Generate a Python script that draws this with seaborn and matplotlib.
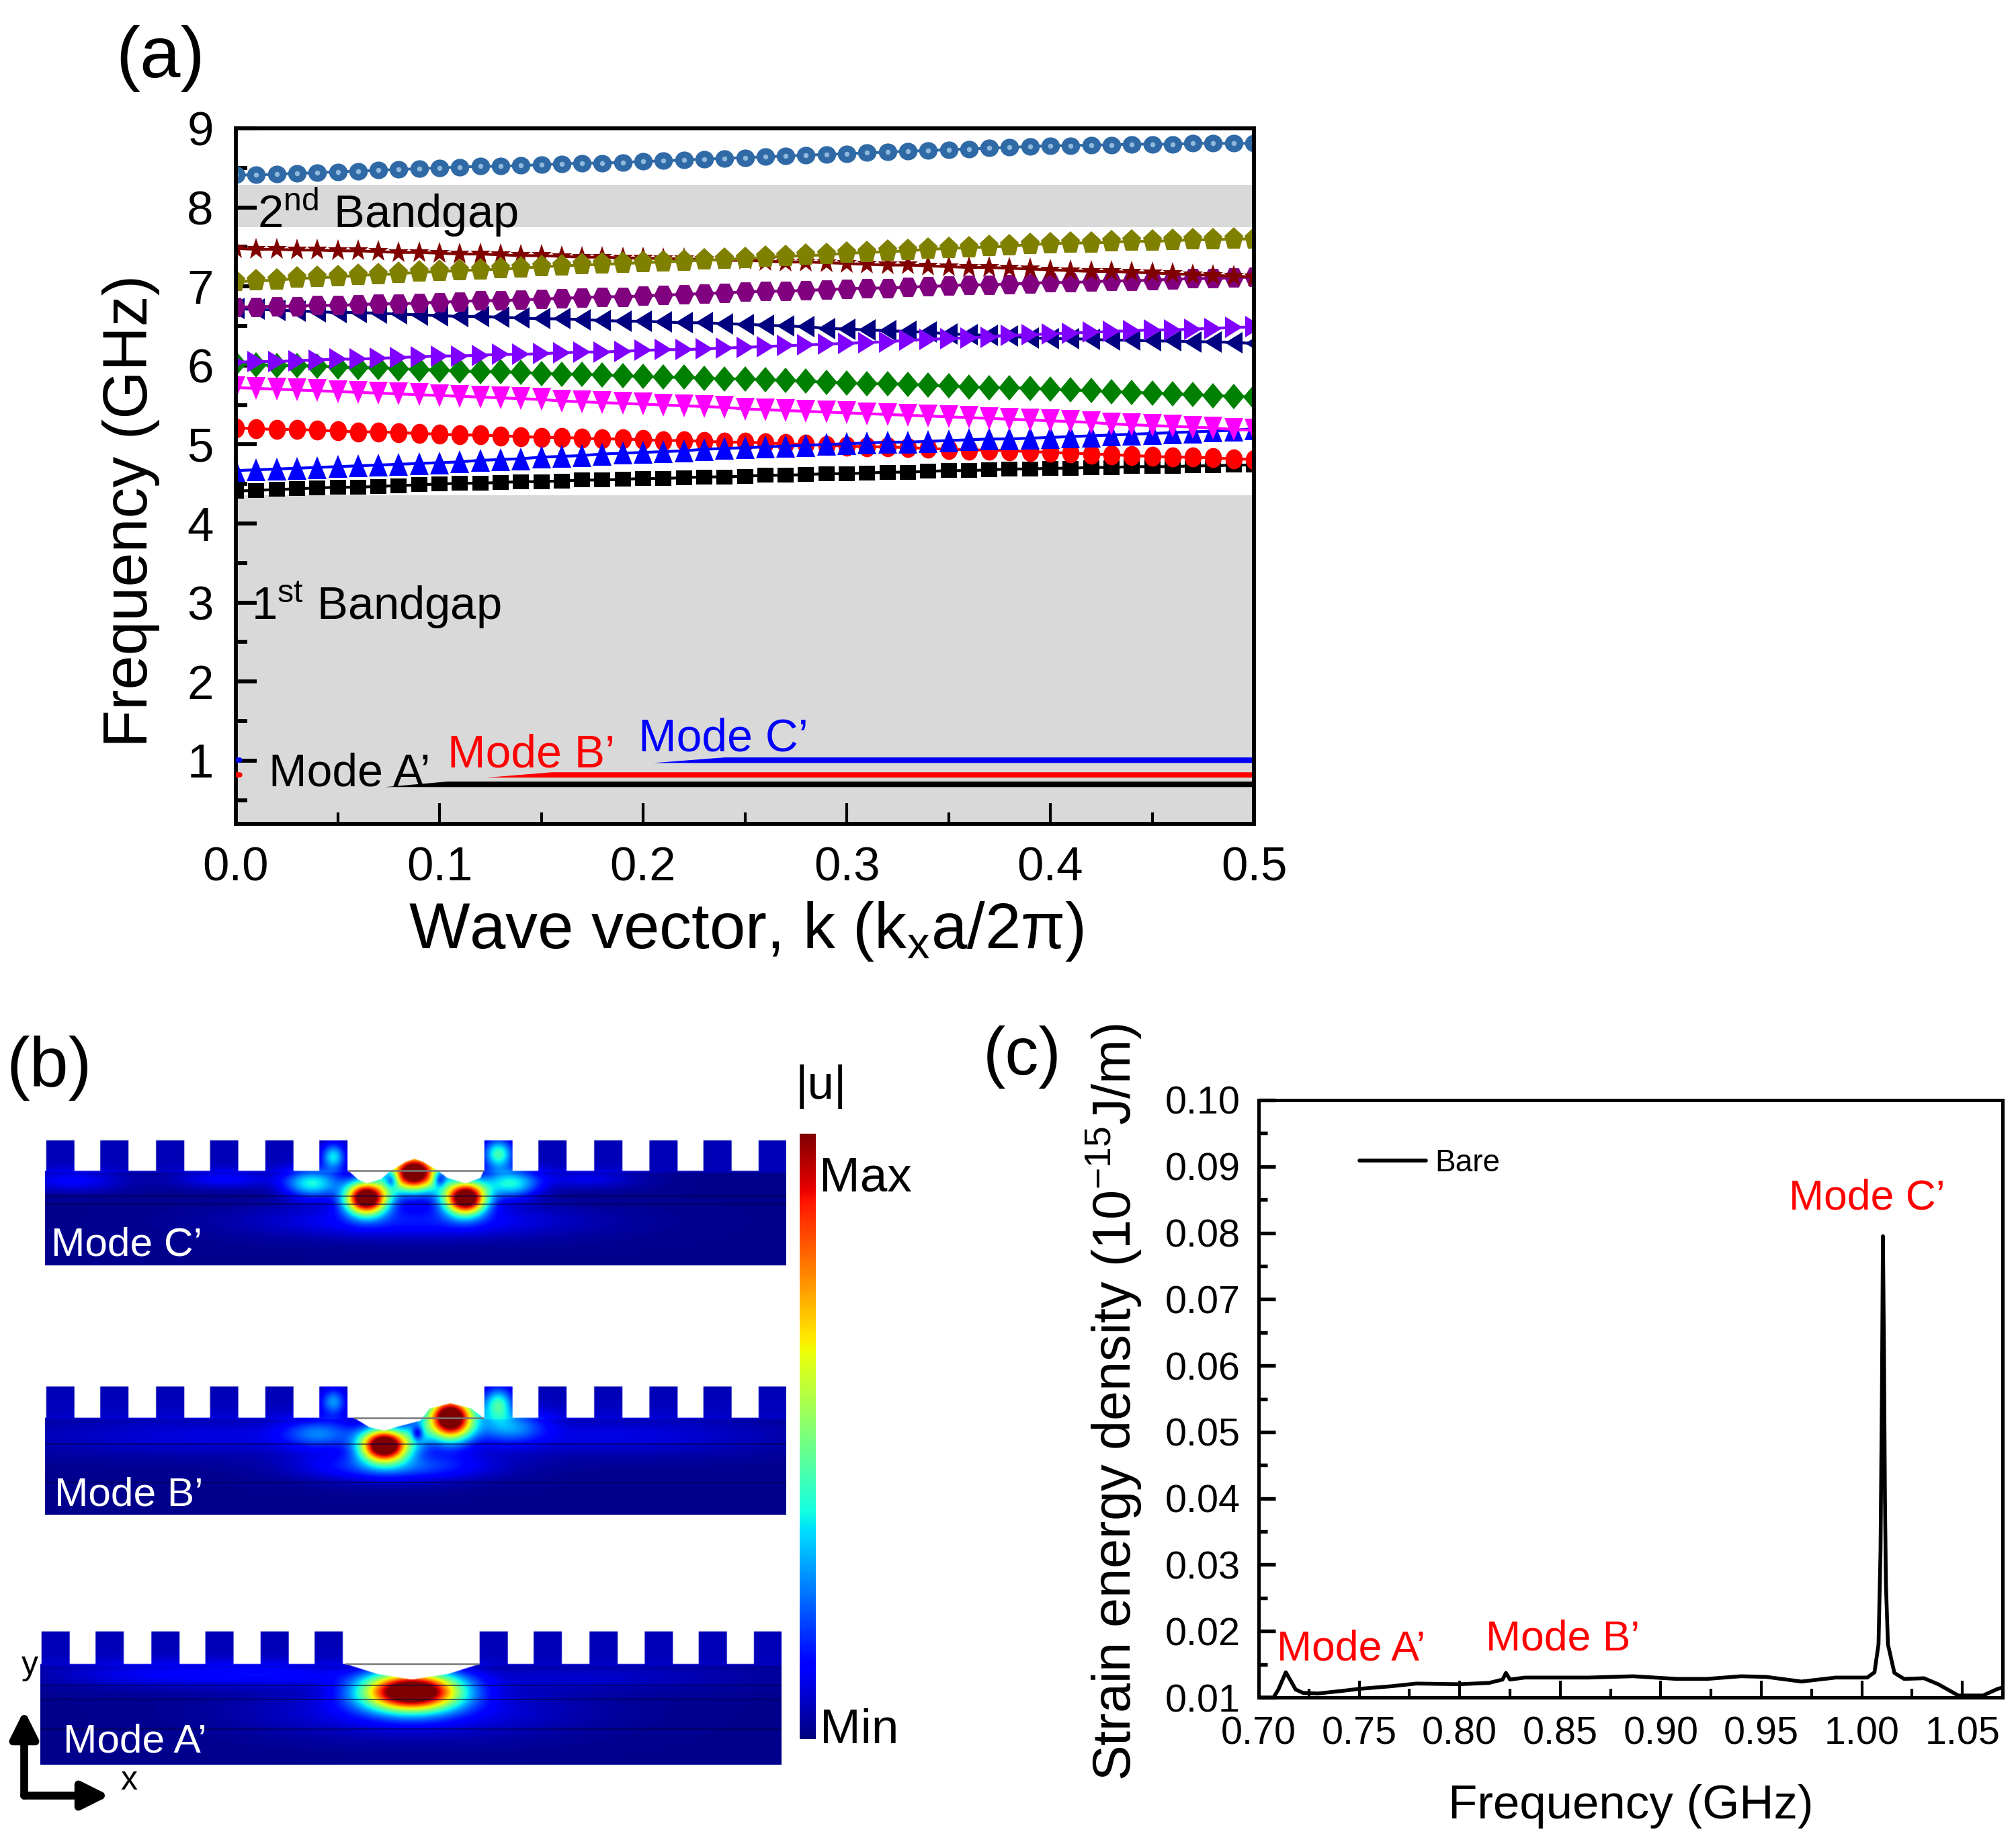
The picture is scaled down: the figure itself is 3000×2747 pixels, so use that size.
import matplotlib
matplotlib.use("Agg")
import matplotlib.pyplot as plt
from matplotlib.markers import MarkerStyle
from matplotlib.transforms import Affine2D
from matplotlib.ticker import MultipleLocator, FormatStrFormatter
import seaborn as sns
import numpy as np

sns.set_theme(style="ticks")
plt.rcParams['font.family'] = ['Liberation Sans', 'DejaVu Sans']
plt.rcParams['mathtext.fontset'] = 'custom'
plt.rcParams['mathtext.rm'] = 'Liberation Sans'
plt.rcParams['mathtext.it'] = 'Liberation Sans:italic'
plt.rcParams['mathtext.bf'] = 'Liberation Sans:bold'

W_PX, H_PX = 3000, 2747

# --- panel (a): band structure
wave_k = [i / 100 for i in range(51)]

band_black = [4.41,4.42,4.43,4.44,4.45,4.46,4.46,4.47,4.48,4.49,4.50,4.51,4.51,4.52,4.53,4.53,4.54,4.55,4.55,4.56,4.57,
              4.57,4.58,4.59,4.59,4.60,4.61,4.61,4.62,4.63,4.63,4.64,4.65,4.65,4.66,4.67,4.67,4.68,4.69,4.69,4.70,
              4.70,4.71,4.71,4.72,4.72,4.72,4.73,4.73,4.74,4.74]
band_red = [5.21,5.20,5.19,5.19,5.18,5.17,5.16,5.16,5.15,5.14,5.13,5.12,5.12,5.11,5.10,5.09,5.09,5.08,5.07,5.07,5.06,
            5.05,5.05,5.04,5.03,5.03,5.02,5.01,5.00,4.99,4.98,4.97,4.97,4.96,4.95,4.94,4.93,4.93,4.92,4.91,4.90,
            4.89,4.88,4.87,4.86,4.85,4.84,4.84,4.83,4.82,4.81]
band_blue = [4.67,4.68,4.69,4.70,4.71,4.72,4.73,4.74,4.75,4.76,4.77,4.78,4.80,4.81,4.82,4.84,4.85,4.86,4.88,4.89,4.90,
             4.91,4.92,4.94,4.95,4.96,4.97,4.98,4.99,5.00,5.01,5.02,5.03,5.03,5.04,5.05,5.06,5.07,5.07,5.08,5.09,
             5.10,5.11,5.12,5.13,5.14,5.15,5.16,5.17,5.18,5.20]
band_magenta = [5.72,5.71,5.70,5.69,5.68,5.67,5.66,5.65,5.64,5.63,5.62,5.61,5.60,5.59,5.58,5.57,5.55,5.54,5.53,5.52,5.51,
                5.50,5.49,5.48,5.47,5.45,5.44,5.43,5.42,5.41,5.40,5.39,5.38,5.37,5.36,5.35,5.34,5.33,5.32,5.31,5.30,
                5.29,5.28,5.26,5.25,5.24,5.23,5.22,5.21,5.19,5.18]
band_green = [6.02,6.01,6.00,6.00,5.99,5.98,5.97,5.97,5.96,5.95,5.94,5.93,5.92,5.92,5.91,5.90,5.89,5.89,5.88,5.87,5.86,
              5.85,5.85,5.84,5.83,5.83,5.82,5.81,5.80,5.79,5.78,5.77,5.77,5.76,5.75,5.74,5.73,5.72,5.72,5.71,5.70,
              5.69,5.68,5.67,5.66,5.65,5.64,5.63,5.62,5.61,5.60]
band_navy = [6.72,6.71,6.70,6.69,6.68,6.67,6.67,6.66,6.65,6.64,6.63,6.62,6.62,6.61,6.60,6.59,6.59,6.58,6.57,6.56,6.56,
             6.55,6.54,6.54,6.53,6.52,6.51,6.50,6.49,6.47,6.46,6.45,6.44,6.43,6.42,6.40,6.39,6.38,6.37,6.35,6.34,
             6.34,6.33,6.32,6.32,6.31,6.31,6.30,6.30,6.29,6.28]
band_violet = [6.04,6.05,6.05,6.06,6.07,6.08,6.08,6.09,6.10,6.11,6.12,6.12,6.13,6.14,6.14,6.15,6.16,6.17,6.17,6.18,6.19,
               6.20,6.20,6.21,6.22,6.23,6.24,6.25,6.26,6.27,6.28,6.29,6.30,6.32,6.33,6.34,6.35,6.36,6.38,6.39,6.40,
               6.41,6.42,6.43,6.44,6.45,6.45,6.46,6.47,6.48,6.49]
band_purple = [6.74,6.74,6.75,6.75,6.76,6.76,6.77,6.78,6.78,6.79,6.80,6.81,6.82,6.82,6.83,6.84,6.85,6.86,6.87,6.87,6.88,
               6.89,6.90,6.91,6.92,6.93,6.94,6.94,6.95,6.96,6.97,6.98,6.98,6.99,7.00,7.01,7.02,7.02,7.03,7.04,7.05,
               7.05,7.06,7.07,7.07,7.08,7.09,7.10,7.10,7.11,7.12]
band_star = [7.48,7.47,7.47,7.46,7.46,7.45,7.45,7.44,7.43,7.43,7.42,7.41,7.41,7.40,7.39,7.39,7.38,7.37,7.37,7.36,7.36,
             7.35,7.35,7.34,7.33,7.33,7.32,7.31,7.31,7.30,7.29,7.28,7.27,7.27,7.26,7.25,7.24,7.24,7.23,7.22,7.21,
             7.20,7.19,7.19,7.18,7.17,7.16,7.15,7.14,7.13,7.12]
band_olive = [7.06,7.07,7.08,7.10,7.11,7.12,7.14,7.15,7.16,7.18,7.19,7.20,7.21,7.22,7.23,7.25,7.26,7.27,7.28,7.29,7.30,
              7.31,7.32,7.33,7.34,7.35,7.37,7.38,7.39,7.40,7.42,7.43,7.44,7.45,7.47,7.48,7.49,7.50,7.51,7.53,7.54,
              7.55,7.55,7.56,7.57,7.57,7.58,7.59,7.59,7.60,7.60]
band_sphere = [8.41,8.41,8.42,8.43,8.44,8.45,8.46,8.47,8.48,8.49,8.50,8.51,8.52,8.52,8.53,8.54,8.55,8.56,8.56,8.57,8.58,
               8.59,8.60,8.61,8.62,8.63,8.64,8.65,8.66,8.67,8.68,8.69,8.70,8.71,8.72,8.73,8.74,8.75,8.76,8.77,8.78,
               8.78,8.79,8.79,8.80,8.80,8.80,8.81,8.81,8.81,8.81]

gap_first = [0.2, 4.36]
gap_second = [7.75, 8.29]

# flat low modes, with the tapered start seen in the picture
mode_a_k = [0.073, 0.104, 0.5]
mode_a_low = [0.67, 0.67, 0.67]
mode_a_high = [0.67, 0.74, 0.74]
mode_b_k = [0.123, 0.155, 0.5]
mode_b_low = [0.79, 0.79, 0.79]
mode_b_high = [0.79, 0.857, 0.857]
mode_c_k = [0.205, 0.24, 0.5]
mode_c_low = [0.975, 0.975, 0.975]
mode_c_high = [0.975, 1.045, 1.045]
# short coloured slivers at k=0
stub_k = [0.0, 0.002]
stub_b = [0.82, 0.82]
stub_c = [1.01, 1.01]

# --- panel (c): strain energy spectrum
freq = [0.700,0.7074,0.7098,0.7135,0.716,0.7184,0.722,0.7294,0.7417,0.75,0.7662,0.7784,0.80,0.8147,0.8213,0.823,0.825,
        0.8324,0.8446,0.8642,0.8862,0.908,0.923,0.940,0.9525,0.970,0.987,1.0027,1.0063,1.0083,1.0093,1.0100,1.0105,
        1.0110,1.0115,1.0120,1.0130,1.0162,1.021,1.0309,1.038,1.048,1.0603,1.0676,1.07]
strain = [0.0100,0.0100,0.0112,0.0138,0.0125,0.0112,0.0107,0.0106,0.0110,0.0113,0.0117,0.0121,0.0120,0.0122,0.0127,0.0137,0.0127,
          0.0130,0.0130,0.0130,0.0132,0.0128,0.0128,0.0132,0.0131,0.0124,0.0130,0.0130,0.0138,0.0180,0.0320,0.0560,0.0795,
          0.0630,0.0400,0.0270,0.0180,0.0137,0.0128,0.0129,0.0120,0.0103,0.0103,0.0113,0.0115]

# --- panel (b): field sketches, blobs are x, y, amplitude, sigma x, sigma y
teeth_centres = [25, 115, 208, 298, 390, 480, 755, 845, 938, 1030, 1120, 1212]
blobs_c = [(535, 107, 1.20, 24, 21), (700, 107, 1.20, 24, 21), (615, 60, 1.20, 24, 23),
           (575, 72, 0.22, 16, 22), (658, 70, 0.22, 16, 22), (577, 74, -0.32, 8, 11), (657, 72, -0.32, 8, 11),
           (445, 80, 0.36, 32, 18), (775, 80, 0.36, 32, 18), (480, 30, 0.30, 13, 16),
           (755, 25, 0.38, 16, 18), (615, 150, 0.13, 170, 22), (45, 75, 0.10, 60, 14),
           (300, 72, 0.10, 60, 12), (900, 72, 0.08, 60, 12)]
surface_c_x = [505, 520, 535, 560, 575, 600, 615, 630, 655, 670, 700, 725, 730]
surface_c_y = [57, 72, 80, 72, 57, 40, 34, 40, 57, 70, 80, 70, 57]
blobs_b = [(565, 107, 1.20, 27, 20), (675, 57, 1.20, 26, 26), (620, 85, 0.20, 16, 20), (620, 85, -0.30, 7, 10),
           (585, 145, 0.20, 100, 18), (755, 32, 0.36, 16, 20), (480, 27, 0.22, 14, 16),
           (455, 85, 0.18, 40, 18), (775, 72, 0.22, 38, 20), (300, 90, 0.07, 260, 25), (950, 90, 0.07, 200, 25)]
surface_b_x = [515, 540, 565, 590, 625, 640, 675, 710, 730]
surface_b_y = [57, 74, 80, 72, 62, 40, 30, 40, 57]
blobs_a = [(618, 105, 1.22, 55, 23), (618, 140, 0.10, 170, 30), (200, 75, 0.09, 130, 16),
           (400, 75, 0.08, 90, 14), (900, 80, 0.05, 200, 16)]
surface_a_x = [510, 560, 618, 680, 730]
surface_a_y = [57, 74, 84, 74, 57]


def px_axes(fig, left, top, right, bottom, **kw):
    return fig.add_axes([left / W_PX, 1 - bottom / H_PX, (right - left) / W_PX, (bottom - top) / H_PX], **kw)


def mode_image(blobs, surf_x, surf_y):
    width, top, bottom = 1235, -15, 234
    xx, yy = np.meshgrid(np.arange(width), np.arange(top, bottom))
    field = np.full(xx.shape, 0.015)
    field[yy < 60] = 0.05
    for bx, by, amp, sx, sy in blobs:
        field = field + amp * np.exp(-((xx - bx) / sx) ** 2 / 2 - ((yy - by) / sy) ** 2 / 2)
    surface = np.interp(xx, surf_x, surf_y, left=57, right=57)
    in_tooth = np.zeros(xx.shape, dtype=bool)
    for c in teeth_centres:
        in_tooth |= np.abs(xx - c) < 24
    in_tooth &= yy >= 0
    blank = (yy < surface) & ~in_tooth
    rgb = plt.get_cmap("jet")(np.clip(field, 0, 1))
    rgb[blank] = (1, 1, 1, 1)
    return rgb


def draw_mode(fig, box, blobs, surf_x, surf_y, lines):
    left, top, right, bottom = box
    ax = px_axes(fig, left, top, right, bottom)
    ax.imshow(mode_image(blobs, surf_x, surf_y), extent=[0, 1235, 234, -15], aspect="auto", interpolation="bicubic")
    ax.hlines(lines, 0, 1235, color="#000040", lw=0.5, alpha=0.55)
    ax.plot([surf_x[0], surf_x[-1]], [57, 57], color="#777777", lw=0.6)
    ax.axis("off")
    return ax


def stretched(mk, sx, sy):
    # the markers in the picture are squeezed, not regular
    return MarkerStyle(mk, transform=Affine2D().scale(sx, sy))


fig = plt.figure(figsize=(W_PX / 300, H_PX / 300), dpi=300)

# panel (a)
ax_a = px_axes(fig, 351, 191, 1866, 1226)
for low, high in (gap_first, gap_second):
    ax_a.axhspan(low, high, color="#d9d9d9", lw=0, zorder=0)

series_a = [
    (band_black, "#000000", "s", 5.8, 1.0, 0.95),
    (band_red, "#ff0000", "o", 6.8, 0.9, 1.05),
    (band_blue, "#0000ff", "^", 8.2, 0.8, 1.0),
    (band_magenta, "#ff00ff", "v", 8.2, 0.8, 1.0),
    (band_green, "#008000", "D", 5.6, 0.95, 1.15),
    (band_navy, "#000080", "<", 7.6, 0.85, 1.0),
    (band_violet, "#8000ff", ">", 7.6, 0.85, 1.0),
    (band_purple, "#800080", "H", 7.6, 0.9, 1.05),
    (band_star, "#800000", "*", 8.4, 0.9, 1.0),
    (band_olive, "#808000", "p", 8.0, 0.9, 1.05),
    (band_sphere, "#2f6aa6", "o", 6.6, 1.0, 0.95),
]
for vals, col, mk, ms, sx, sy in series_a:
    sns.lineplot(x=wave_k, y=vals, ax=ax_a, color=col, marker=stretched(mk, sx, sy), markersize=ms,
                 markeredgewidth=0, linewidth=1.0, errorbar=None, legend=False)
# highlight on the spheres
sns.lineplot(x=wave_k, y=band_sphere, ax=ax_a, color="#8fb8dc", marker="o", markersize=1.8,
             markeredgewidth=0, linewidth=0, errorbar=None, legend=False)

ax_a.fill_between(mode_a_k, mode_a_low, mode_a_high, color="#000000", lw=0, zorder=2)
ax_a.fill_between(mode_b_k, mode_b_low, mode_b_high, color="#ff0000", lw=0, zorder=2)
ax_a.fill_between(mode_c_k, mode_c_low, mode_c_high, color="#0000ff", lw=0, zorder=2)
sns.lineplot(x=stub_k, y=stub_b, ax=ax_a, color="#ff0000", linewidth=1.8, errorbar=None, legend=False, zorder=7)
sns.lineplot(x=stub_k, y=stub_c, ax=ax_a, color="#0000ff", linewidth=1.8, errorbar=None, legend=False, zorder=7)

ax_a.set_xlim(0, 0.5)
ax_a.set_ylim(0.2, 9)
ax_a.set_xticks([0.0, 0.1, 0.2, 0.3, 0.4, 0.5])
ax_a.set_yticks([1, 2, 3, 4, 5, 6, 7, 8, 9])
ax_a.xaxis.set_minor_locator(MultipleLocator(0.05))
ax_a.yaxis.set_minor_locator(MultipleLocator(0.5))
ax_a.xaxis.set_major_formatter(FormatStrFormatter("%.1f"))
ax_a.tick_params(which="major", direction="in", length=7.5, width=1.0, labelsize=17, pad=8,
                 color="black", labelcolor="black")
ax_a.tick_params(which="minor", direction="in", length=4, width=1.0, color="black")
ax_a.tick_params(axis="y", which="both", width=1.4)
ax_a.tick_params(axis="both", which="both", top=False, right=False, zorder=5)
ax_a.set_xlabel("Wave vector, k (k$_{\\mathrm{x}}$a/2π)", fontsize=23, color="black", va="center")
ax_a.set_ylabel("Frequency (GHz)", fontsize=22, color="black", va="center")
ax_a.xaxis.set_label_coords(0.501, -0.155)
ax_a.yaxis.set_label_coords(-0.103, 0.45)
for s in ax_a.spines.values():
    s.set_linewidth(1.4)
    s.set_color("black")
    s.set_zorder(6)

# panel (b)
draw_mode(fig, (67, 1685, 1170, 1883), blobs_c, surface_c_x, surface_c_y, [105, 120])
draw_mode(fig, (67, 2051, 1170, 2254), blobs_b, surface_b_x, surface_b_y, [105, 175])
draw_mode(fig, (60, 2415, 1163, 2626), blobs_a, surface_a_x, surface_a_y, [95, 120, 172])

ax_bar = px_axes(fig, 1190, 1687, 1214, 2588)
ax_bar.imshow(np.linspace(1, 0, 256)[:, None], cmap="jet", aspect="auto")
ax_bar.axis("off")

# panel (c)
ax_c = px_axes(fig, 1873, 1637, 2980, 2526)
sns.lineplot(x=freq, y=strain, ax=ax_c, color="black", linewidth=1.35, errorbar=None, label="Bare")
ax_c.set_xlim(0.70, 1.07)
ax_c.set_ylim(0.01, 0.10)
ax_c.set_xticks([0.70, 0.75, 0.80, 0.85, 0.90, 0.95, 1.00, 1.05])
ax_c.set_yticks([0.01, 0.02, 0.03, 0.04, 0.05, 0.06, 0.07, 0.08, 0.09, 0.10])
ax_c.xaxis.set_minor_locator(MultipleLocator(0.025))
ax_c.yaxis.set_minor_locator(MultipleLocator(0.005))
ax_c.xaxis.set_major_formatter(FormatStrFormatter("%.2f"))
ax_c.yaxis.set_major_formatter(FormatStrFormatter("%.2f"))
ax_c.tick_params(which="major", direction="in", length=6, width=1.0, labelsize=13.8, pad=6.5,
                 color="black", labelcolor="black")
ax_c.tick_params(which="minor", direction="in", length=3.2, width=1.0, color="black")
ax_c.tick_params(axis="y", which="both", width=1.3)
ax_c.tick_params(axis="both", which="both", top=False, right=False)
ax_c.set_xlabel("Frequency (GHz)", fontsize=17, color="black", va="center")
ax_c.set_ylabel("Strain energy density (10$^{-15}$J/m)", fontsize=19, color="black", va="center")
ax_c.xaxis.set_label_coords(0.5, -0.182)
ax_c.yaxis.set_label_coords(-0.195, 0.495)
for s in ax_c.spines.values():
    s.set_linewidth(1.2)
    s.set_color("black")
ax_c.legend(loc="center left", bbox_to_anchor=(0.1355, 0.894), frameon=False, fontsize=11,
            borderpad=0, borderaxespad=0, handlelength=2.15, handletextpad=0.3, labelcolor="black")

# overlay in pixel coordinates for the free text
ov = fig.add_axes([0, 0, 1, 1], zorder=10)
ov.set_xlim(0, W_PX)
ov.set_ylim(H_PX, 0)
ov.axis("off")

free_text = [
    (239, 87, "(a)", 26, "black"), (73, 1590, "(b)", 25, "black"), (1521, 1573, "(c)", 24, "black"),
    (577, 316, "2$^{\\mathrm{nd}}$ Bandgap", 16.5, "black"), (560, 901, "1$^{\\mathrm{st}}$ Bandgap", 16.5, "black"),
    (520, 1151, "Mode A’", 16.3, "black"), (791, 1124, "Mode B’", 16.3, "#ff0000"), (1076, 1100, "Mode C’", 16.3, "#0000ff"),
    (189, 1853, "Mode C’", 14.5, "white"), (192, 2225, "Mode B’", 14.5, "white"), (201, 2592, "Mode A’", 14.5, "white"),
    (1222, 1617, "|u|", 17, "black"), (1288, 1754, "Max", 17.5, "black"), (1279, 2575, "Min", 17.5, "black"),
    (44, 2479, "y", 12, "black"), (192, 2650, "x", 12, "black"),
    (2011, 2454, "Mode A’", 15, "#ff0000"), (2326, 2439, "Mode B’", 15, "#ff0000"), (2778, 1783, "Mode C’", 15, "#ff0000"),
]
for x, y, txt, size, col in free_text:
    ov.text(x, y, txt, fontsize=size, color=col, ha="center", va="center")

for end in [(36, 2545), (163, 2672)]:
    ov.annotate("", xy=end, xytext=(36, 2672),
                arrowprops=dict(arrowstyle="-|>", color="black", lw=2.8, mutation_scale=20, shrinkA=0, shrinkB=0))

fig.savefig("out.png", dpi=300, facecolor="white")
plt.close(fig)
